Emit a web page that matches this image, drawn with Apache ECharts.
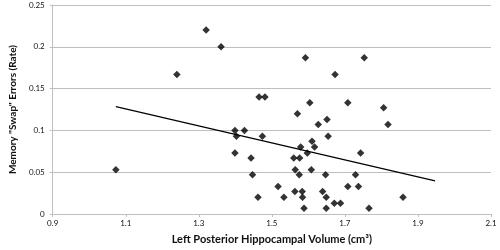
<!DOCTYPE html>
<html>
<head>
<meta charset="utf-8">
<script src="https://cdn.jsdelivr.net/npm/echarts@6/dist/echarts.min.js"></script>
<style>
  html, body { margin: 0; padding: 0; background: #fff; }
  #chart { width: 500px; height: 250px; }
</style>
</head>
<body>
<div id="chart"></div>
<script>
// hippocampal volume (cm3) vs swap error rate
const volume = [
  1.073, 1.240, 1.320, 1.361, 1.465, 1.481, 1.592, 1.753, 1.673, 1.604,
  1.708, 1.806, 1.570, 1.651, 1.627, 1.818, 1.399, 1.425, 1.403, 1.474,
  1.654, 1.610, 1.579, 1.617, 1.399, 1.597, 1.743, 1.443, 1.560, 1.576,
  1.564, 1.608, 1.447, 1.575, 1.647, 1.729, 1.517, 1.708, 1.737, 1.563,
  1.583, 1.639, 1.462, 1.533, 1.584, 1.649, 1.859, 1.671, 1.688, 1.588,
  1.649, 1.766
]
const swapErrors = [
  0.053, 0.167, 0.220, 0.200, 0.140, 0.140, 0.187, 0.187, 0.167, 0.133,
  0.133, 0.127, 0.120, 0.113, 0.107, 0.107, 0.100, 0.100, 0.093, 0.093,
  0.093, 0.087, 0.080, 0.080, 0.073, 0.073, 0.073, 0.067, 0.067, 0.067,
  0.053, 0.053, 0.047, 0.047, 0.047, 0.047, 0.033, 0.033, 0.033, 0.027,
  0.027, 0.027, 0.020, 0.020, 0.020, 0.020, 0.020, 0.013, 0.013, 0.007,
  0.007, 0.007
]
// linear trend line end points
const trendX = [1.073, 1.947]
const trendY = [0.1284, 0.0396]

const xTicks = { min: 0.9, max: 2.1, step: 0.2 }
const yTicks = { min: 0, max: 0.25, step: 0.05 }

const font = 'Lato, "Open Sans", sans-serif'
const gray = '#bfbfbf'

let chart = echarts.init(document.getElementById('chart'))
chart.setOption({
  animation: false,
  grid: {
    left: 36,
    right: 9,
    top: 5,
    bottom: 32
  },
  xAxis: {
    type: 'value',
    min: xTicks.min,
    max: xTicks.max,
    interval: xTicks.step,
    name: 'Left Posterior Hippocampal Volume (cm³)',
    nameLocation: 'middle',
    nameGap: 20,
    nameTextStyle: { fontFamily: font, fontWeight: 'bold', fontSize: 11, color: '#111' },
    axisLine: { show: true, lineStyle: { color: gray } },
    axisTick: { show: true, length: 3, lineStyle: { color: gray } },
    axisLabel: {
      fontFamily: font, fontSize: 8, color: '#111', margin: 5,
      formatter: v => v.toFixed(1)
    },
    splitLine: { show: false }
  },
  yAxis: {
    type: 'value',
    min: yTicks.min,
    max: yTicks.max,
    interval: yTicks.step,
    name: 'Memory "Swap" Errors (Rate)',
    nameLocation: 'middle',
    nameGap: 25,
    nameTextStyle: { fontFamily: font, fontWeight: 'bold', fontSize: 10, color: '#111' },
    axisLine: { show: true, lineStyle: { color: gray } },
    axisTick: { show: true, length: 3, lineStyle: { color: gray } },
    axisLabel: { fontFamily: font, fontSize: 8, color: '#111', margin: 8 },
    //网格线
    splitLine: { show: true, lineStyle: { color: gray, width: 1 } }
  },
  series: [
    {
      type: 'scatter',
      symbol: 'diamond',
      symbolSize: 7.5,
      itemStyle: { color: '#000' },
      data: volume.map((v, i) => [v, swapErrors[i]])
    },
    {
      type: 'line',
      symbol: 'none',
      lineStyle: { color: '#000', width: 1.2 },
      data: trendX.map((v, i) => [v, trendY[i]])
    }
  ]
})
</script>
</body>
</html>
